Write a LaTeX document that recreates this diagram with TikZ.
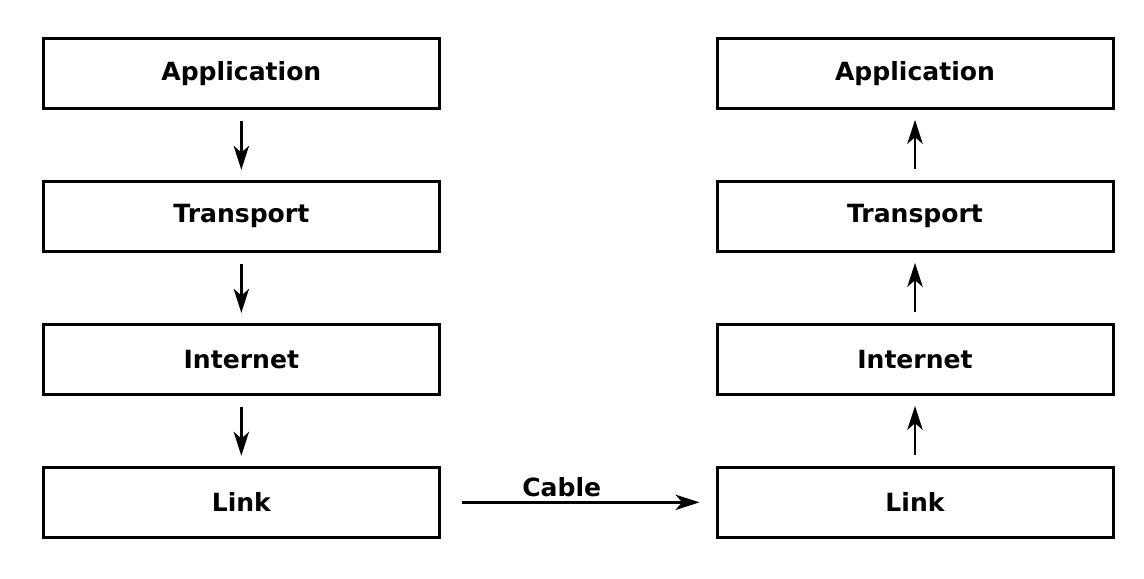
\documentclass[tikz,border=0pt]{standalone}
\usepackage{fontspec}
\setmainfont{DejaVu Sans}
\usetikzlibrary{positioning,arrows.meta}

\begin{document}
\begin{tikzpicture}[node distance=52.5pt]
        \tikzstyle{layer}=[draw,line width=2.25pt,minimum width=297pt,minimum height=52.5pt,font=\fontsize{18.8}{22}\selectfont\bfseries]
        \tikzstyle{flow}=[-{Stealth[length=18pt,width=11.5pt,inset=5pt]},line width=2pt,shorten <=8pt,shorten >=7.5pt]
        \useasboundingbox (0,0) rectangle (858pt,-433.5pt);
        % sending host
        \node[layer] (appA) at (181pt,-55pt) {Application};
        \node[layer,below=of appA] (trnA) {Transport};
        \node[layer,below=of trnA] (netA) {Internet};
        \node[layer,below=of netA] (lnkA) {Link};
        % receiving host
        \node[layer,right=206pt of appA] (appB) {Application};
        \node[layer,below=of appB] (trnB) {Transport};
        \node[layer,below=of trnB] (netB) {Internet};
        \node[layer,below=of netB] (lnkB) {Link};
        \draw[flow] (appA) -- (trnA);
        \draw[flow] (trnA) -- (netA);
        \draw[flow] (netA) -- (lnkA);
        \draw[flow] (lnkB) -- (netB);
        \draw[flow] (netB) -- (trnB);
        \draw[flow] (trnB) -- (appB);
        \draw[flow,shorten <=15.75pt,shorten >=12pt] (lnkA) -- node[pos=0.44,above,inner sep=3pt,font=\fontsize{18.8}{22}\selectfont\bfseries] {Cable} (lnkB);
    \end{tikzpicture}
\end{document}
